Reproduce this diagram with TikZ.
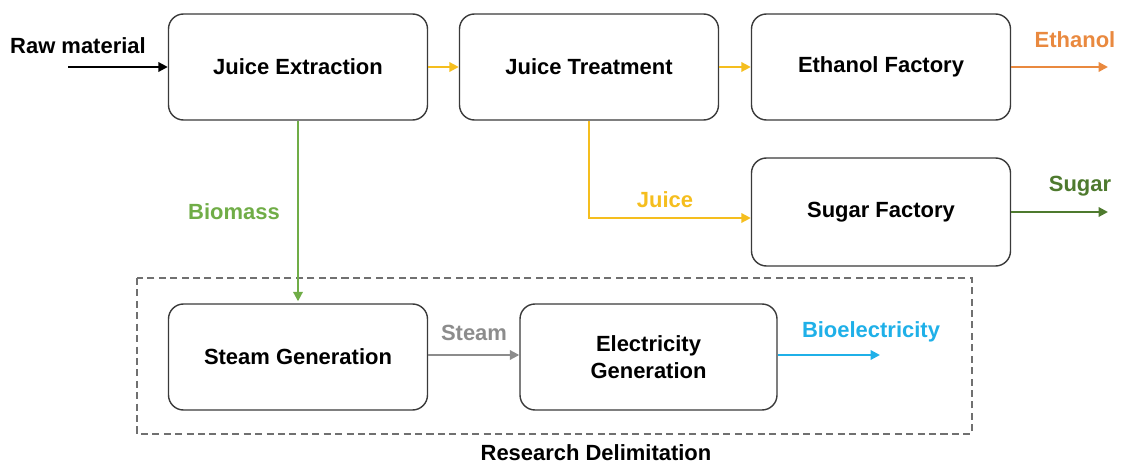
\documentclass[tikz,border=0pt]{standalone}
\usepackage{fontspec}
\setmainfont{Liberation Sans}
\usepackage{xcolor}
\usetikzlibrary{arrows.meta}

\definecolor{boxline}{HTML}{3A3A3A}
\definecolor{ethorange}{HTML}{E9893F}
\definecolor{biogreen}{HTML}{70AD47}
\definecolor{sugargreen}{HTML}{4E7A2E}
\definecolor{juiceyellow}{HTML}{F5BE1E}
\definecolor{steamgray}{HTML}{8C8C8C}
\definecolor{elecblue}{HTML}{1FB0E8}

\begin{document}
\begin{tikzpicture}[
  font=\bfseries\fontsize{12.5}{15}\selectfont,
  unit/.style={draw=boxline,line width=0.8pt,rounded corners=0.3cm,fill=white,
    minimum width=5.18cm,minimum height=2.12cm,align=center},
  flow/.style={line width=1.2pt,-{Triangle[length=1.9mm,width=1.9mm]}}
]
\useasboundingbox (0,0) rectangle (22.48,-9.3);

% process units
\node[unit] (jext)   at (5.96,-1.34)  {Juice Extraction};
\node[unit] (jtreat) at (11.78,-1.34) {Juice Treatment};
\node[unit] (ethf)   at (17.62,-1.34) {Ethanol Factory};
\node[unit,minimum height=2.16cm] (sugf) at (17.62,-4.24) {Sugar Factory};
\node[unit] (steam)  at (5.96,-7.14)  {Steam Generation};
\node[unit,minimum width=5.14cm] (elec) at (12.97,-7.14) {Electricity\\Generation};

% research boundary
\draw[dashed,steamgray!80!black,line width=0.8pt,dash pattern=on 4pt off 2.5pt]
  (2.74,-5.56) rectangle (19.44,-8.68);
\node[inner sep=0pt] (delim) at (11.92,-9.06) {Research Delimitation};

% free ends
\coordinate (raw)  at (1.36,-1.34);
\coordinate (etho) at (22.16,-1.34);
\coordinate (sugo) at (22.16,-4.24);
\coordinate (bioe) at (17.6,-7.1);

\node (rawlbl) at (1.56,-0.92) {Raw material};
\draw[flow,black] (raw) -- (jext.west);

\draw[flow,juiceyellow] (jext.east) -- (jtreat.west);
\draw[flow,juiceyellow] (jtreat.east) -- (ethf.west);

\draw[flow,ethorange] (ethf.east) -- (etho);
\node[text=ethorange] (ethlbl) at (21.5,-0.8) {Ethanol};

\draw[flow,juiceyellow] (jtreat.south) |- ([yshift=-0.12cm]sugf.west);
\node[text=juiceyellow] (juicelbl) at (13.3,-4.0) {Juice};

\draw[flow,sugargreen] (sugf.east) -- (sugo);
\node[text=sugargreen] (sugarlbl) at (21.6,-3.72) {Sugar};

\draw[flow,biogreen] (jext.south) -- ([yshift=0.04cm]steam.north);
\node[text=biogreen] (biolbl) at (4.68,-4.24) {Biomass};

\draw[flow,steamgray] ([yshift=0.04cm]steam.east) -- ([yshift=0.04cm]elec.west);
\node[text=steamgray] (steamlbl) at (9.48,-6.66) {Steam};

\draw[flow,elecblue] ([yshift=0.04cm]elec.east) -- (bioe);
\node[text=elecblue] (bioelbl) at (17.42,-6.64) {Bioelectricity};
\end{tikzpicture}
\end{document}
